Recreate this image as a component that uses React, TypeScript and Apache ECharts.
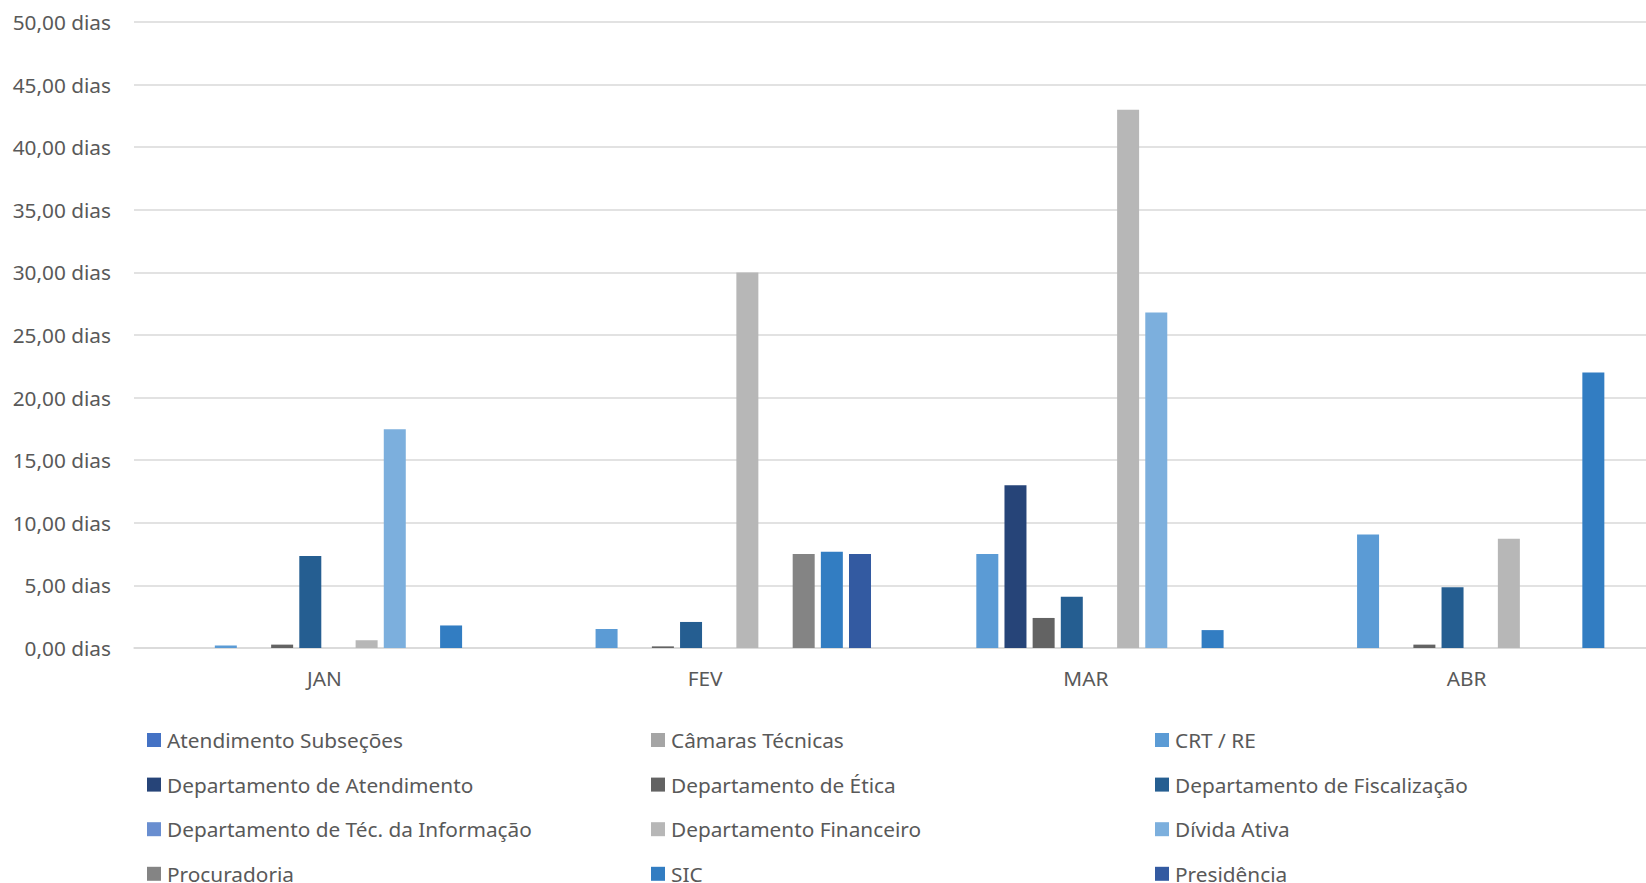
import React, { useEffect, useRef } from "react";
import * as echarts from "echarts";

const categories = ["JAN", "FEV", "MAR", "ABR"];

const seriesNames = [
  "Atendimento Subseções",
  "Câmaras Técnicas",
  "CRT / RE",
  "Departamento de Atendimento",
  "Departamento de Ética",
  "Departamento de Fiscalização",
  "Departamento de Téc. da Informação",
  "Departamento Financeiro",
  "Dívida Ativa",
  "Procuradoria",
  "SIC",
  "Presidência",
];

const seriesColors = [
  "#4472C4",
  "#A5A5A5",
  "#5B9BD5",
  "#264478",
  "#636363",
  "#255E91",
  "#698ED0",
  "#B7B7B7",
  "#7CAFDD",
  "#848484",
  "#327DC2",
  "#335AA1",
];

const atendimentoSubsecoes = [0, 0, 0, 0];
const camarasTecnicas = [0, 0, 0, 0];
const crtRe = [0.2, 1.52, 7.5, 9.07];
const deptAtendimento = [0, 0, 13.0, 0];
const deptEtica = [0.27, 0.13, 2.4, 0.27];
const deptFiscalizacao = [7.35, 2.08, 4.1, 4.85];
const deptTecInformacao = [0, 0, 0, 0];
const deptFinanceiro = [0.62, 30.0, 43.0, 8.72];
const dividaAtiva = [17.47, 0, 26.8, 0];
const procuradoria = [0, 7.5, 0, 0];
const sic = [1.8, 7.68, 1.43, 22.0];
const presidencia = [0, 7.5, 0, 0];

const seriesValues = [
  atendimentoSubsecoes,
  camarasTecnicas,
  crtRe,
  deptAtendimento,
  deptEtica,
  deptFiscalizacao,
  deptTecInformacao,
  deptFinanceiro,
  dividaAtiva,
  procuradoria,
  sic,
  presidencia,
];

const yMin = 0;
const yMax = 50;
const yInterval = 5;

const FONT = "'Noto Sans', sans-serif";
const FONT_SIZE = 20.8;
const TEXT_COLOR = "#595959";

export default function App() {
  const ref = useRef<HTMLDivElement>(null);

  useEffect(() => {
    if (!ref.current) return;
    const chart = echarts.init(ref.current, undefined, { renderer: "svg" });

    const legends = seriesNames.map((name, i) => {
      const r = Math.floor(i / 3);
      const c = i % 3;
      return {
        orient: "horizontal" as const,
        left: 147 + c * 504,
        top: 739.5 + r * 44.6 - 10,
        padding: 0,
        itemWidth: 14,
        itemHeight: 14,
        icon: "rect",
        selectedMode: false,
        textStyle: {
          fontFamily: FONT,
          fontSize: FONT_SIZE,
          lineHeight: 20,
          color: TEXT_COLOR,
          padding: [0, 0, 0, 1],
        },
        data: [name],
      };
    });

    chart.setOption({
      animation: false,
      backgroundColor: "#ffffff",
      textStyle: { fontFamily: FONT },
      grid: { left: 134, right: 0, top: 22, bottom: 883 - 648 },
      legend: legends,
      xAxis: {
        type: "category",
        data: categories,
        axisLine: { show: true, lineStyle: { color: "#D9D9D9", width: 1.5 } },
        axisTick: { show: false },
        axisLabel: {
          fontFamily: FONT,
          fontSize: FONT_SIZE,
          color: TEXT_COLOR,
          margin: 19,
        },
      },
      yAxis: {
        type: "value",
        min: yMin,
        max: yMax,
        interval: yInterval,
        axisLine: { show: false },
        axisTick: { show: false },
        splitLine: { lineStyle: { color: "#D9D9D9", width: 1.5 } },
        axisLabel: {
          fontFamily: FONT,
          fontSize: FONT_SIZE,
          color: TEXT_COLOR,
          margin: 23,
          formatter: (v: number) => v.toFixed(2).replace(".", ",") + " dias",
        },
      },
      series: seriesNames.map((name, i) => ({
        name,
        type: "bar",
        data: seriesValues[i],
        barWidth: 22,
        barGap: "28%",
        itemStyle: { color: seriesColors[i] },
      })),
    });

    return () => chart.dispose();
  }, []);

  return (
    <div
      style={{
        position: "absolute",
        left: 0,
        top: 0,
        width: 1646,
        height: 883,
        overflow: "hidden",
      }}
    >
      <div ref={ref} style={{ width: 1657, height: 883 }} />
    </div>
  );
}
